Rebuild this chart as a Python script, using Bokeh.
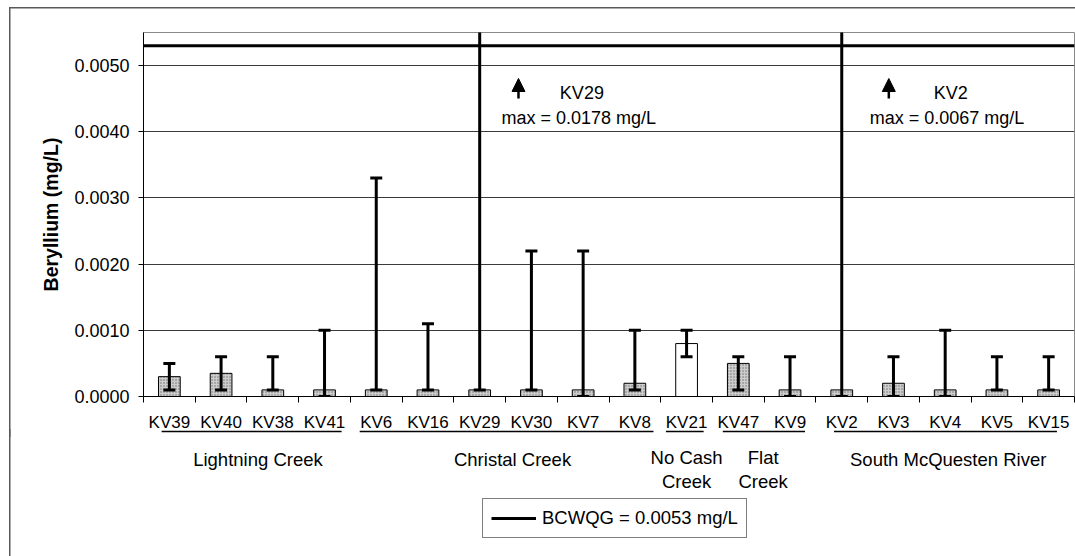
from bokeh.plotting import figure
from bokeh.layouts import column
from bokeh.models import (Range1d, FixedTicker, PrintfTickFormatter, Label, Arrow, NormalHead,
                          Legend, LegendItem)
from bokeh.embed import file_html
from bokeh.resources import INLINE

# ---------------- data ----------------
sites = ["KV39", "KV40", "KV38", "KV41", "KV6", "KV16", "KV29", "KV30", "KV7", "KV8",
         "KV21", "KV47", "KV9", "KV2", "KV3", "KV4", "KV5", "KV15"]
mean_be = [0.0003, 0.00035, 0.0001, 0.0001, 0.0001, 0.0001, 0.0001, 0.0001, 0.0001, 0.0002,
           0.0008, 0.0005, 0.0001, 0.0001, 0.0002, 0.0001, 0.0001, 0.0001]
min_be = [0.0001, 0.0001, 0.0001, 0.0, 0.0001, 0.0001, 0.0001, 0.0001, 0.0, 0.0001,
          0.0006, 0.0001, 0.0, 0.0, 0.0, 0.0, 0.0001, 0.0001]
max_be = [0.0005, 0.0006, 0.0006, 0.0010, 0.0033, 0.0011, 0.0178, 0.0022, 0.0022, 0.0010,
          0.0010, 0.0006, 0.0006, 0.0067, 0.0006, 0.0010, 0.0006, 0.0006]
groups = ["Lightning Creek", "Christal Creek", "No Cash\nCreek", "Flat\nCreek", "South McQuesten River"]
group_sizes = [4, 6, 1, 2, 5]
BCWQG = 0.0053
y_ticks = [0.0, 0.001, 0.002, 0.003, 0.004, 0.005]
off_scale_sites = ["KV29", "KV2"]

# ---------------- styling / layout helpers ----------------
FONT = "Liberation Sans"
GRAY = "#cdcdcd"
W, H = 1075, 556
Y_MAX = 0.0055
FRAME_TOP, FRAME_BOTTOM = 32, 396
TOP_H = 437                       # height of the main figure
STRIP_TOP = 429                   # canvas row where the lower strip starts (overlaps main fig)
PX = Y_MAX / (FRAME_BOTTOM - FRAME_TOP)
BORDER = "#5a5a5a"


def ypx(sy):
    """data y of the main figure for a canvas pixel row (annotation placement)"""
    return (FRAME_BOTTOM - sy) * PX


def border_styles(top):
    imgs = ["linear-gradient(%s,%s)" % (BORDER, BORDER)]
    sizes = ["1.5px 100%"]
    pos = ["9px %dpx" % (7 if top else 0)]
    if top:
        imgs.append("linear-gradient(%s,%s)" % (BORDER, BORDER))
        sizes.append("100% 1.5px")
        pos.append("9px 7px")
    return {"background-image": ", ".join(imgs), "background-size": ", ".join(sizes),
            "background-position": ", ".join(pos), "background-repeat": "no-repeat"}


xs = [i + 0.5 for i in range(len(sites))]
bar_colors = ["white" if s == "KV21" else GRAY for s in sites]
bar_hatch = [" " if s == "KV21" else "dot" for s in sites]
cap = 0.116

x_range = Range1d(0, len(sites))
p = figure(width=W, height=TOP_H, x_range=x_range, y_range=Range1d(0, Y_MAX),
           output_backend="svg", toolbar_location=None,
           min_border_left=143, min_border_right=1, min_border_top=FRAME_TOP,
           min_border_bottom=TOP_H - FRAME_BOTTOM, styles=border_styles(True))
p.background_fill_color = "white"
p.border_fill_alpha = 0
p.outline_line_color = "#8a8a8a"
p.outline_line_width = 1

# bars
p.vbar(x=xs, top=mean_be, bottom=0, width=0.42, fill_color=bar_colors,
       hatch_pattern=bar_hatch, hatch_color="#6e6e6e", hatch_scale=3, hatch_weight=1,
       line_color="black", line_width=1)

# error bars (min - max)
p.segment(x0=xs, y0=min_be, x1=xs, y1=max_be, line_color="black", line_width=3)
p.segment(x0=[x - cap for x in xs], y0=max_be, x1=[x + cap for x in xs], y1=max_be,
          line_color="black", line_width=3)
p.segment(x0=[x - cap for x in xs], y0=min_be, x1=[x + cap for x in xs], y1=min_be,
          line_color="black", line_width=3)

# guideline
p.line(x=[0, len(sites)], y=[BCWQG, BCWQG], line_color="black", line_width=3)

# axes
p.xaxis.ticker = FixedTicker(ticks=xs, minor_ticks=list(range(len(sites) + 1)))
p.xaxis.major_label_overrides = {x: s for x, s in zip(xs, sites)}
p.xaxis.major_tick_line_color = None
p.xaxis.major_tick_out = 0
p.xaxis.major_tick_in = 0
p.xaxis.minor_tick_out = 6
p.xaxis.minor_tick_in = 0
p.xaxis.minor_tick_line_color = "black"
p.xaxis.major_label_standoff = 10
p.xaxis.major_label_text_font = FONT
p.xaxis.major_label_text_font_size = "17px"
p.xaxis.major_label_text_color = "black"
p.xaxis.axis_line_color = "black"

p.yaxis.ticker = FixedTicker(ticks=y_ticks)
p.yaxis.formatter = PrintfTickFormatter(format="%.4f")
p.yaxis.major_tick_out = 5
p.yaxis.major_tick_in = 0
p.yaxis.minor_tick_line_color = None
p.yaxis.major_label_standoff = 9
p.yaxis.major_label_text_font = FONT
p.yaxis.major_label_text_font_size = "18px"
p.yaxis.major_label_text_color = "black"
p.yaxis.axis_line_color = "black"
p.yaxis.axis_label = "Beryllium (mg/L)"
p.yaxis.axis_label_text_font = FONT
p.yaxis.axis_label_text_font_size = "19.5px"
p.yaxis.axis_label_text_font_style = "bold"
p.yaxis.axis_label_text_color = "black"
p.yaxis.axis_label_standoff = 9

p.xgrid.visible = False
p.ygrid.ticker = FixedTicker(ticks=y_ticks)
p.ygrid.grid_line_color = "#3a3a3a"
p.ygrid.grid_line_width = 1

# off-scale annotations
arrow_dx = [0.75, 0.91]
site_dx = [1.55, 1.78]
max_dx = [0.42, 0.54]
for k, s in enumerate(off_scale_sites):
    i = sites.index(s)
    cx = xs[i]
    p.add_layout(Arrow(end=NormalHead(size=13, fill_color="black", line_color="black"),
                       x_start=cx + arrow_dx[k], y_start=ypx(98),
                       x_end=cx + arrow_dx[k], y_end=ypx(78),
                       line_color="black", line_width=2.5))
    p.add_layout(Label(x=cx + site_dx[k], y=ypx(92), text=s, text_font=FONT,
                       text_font_size="18px", text_baseline="middle", text_align="left",
                       text_color="black"))
    p.add_layout(Label(x=cx + max_dx[k], y=ypx(117), text=f"max = {max_be[i]:.4f} mg/L",
                       text_font=FONT, text_font_size="18px", text_baseline="middle",
                       text_align="left", text_color="black"))

# ---------------- lower strip: group labels, underlines, legend ----------------
q = figure(width=W, height=H - STRIP_TOP, x_range=x_range, y_range=Range1d(H, STRIP_TOP),
           output_backend="svg", toolbar_location=None,
           x_axis_location=None, y_axis_location=None,
           min_border_left=143, min_border_right=1, min_border_top=0, min_border_bottom=0,
           styles=border_styles(False))
q.margin = (STRIP_TOP - TOP_H, 0, 0, 0)
q.outline_line_color = None
q.background_fill_alpha = 0
q.border_fill_alpha = 0
q.xgrid.visible = False
q.ygrid.visible = False

label_dx_px = [11, 7, 0, -1, 3]
label_cy = [459, 459, 469, 469, 459]
line_pad_l = [0.35, 0.18, 0.10, 0.20, 0.35]
line_pad_r = [0.17, 0.14, 0.17, 0.21, 0.34]
UNDERLINE_Y = 431
x0s, x1s = [], []
start = 0
for g, n, dxp, cy, pl, pr in zip(groups, group_sizes, label_dx_px, label_cy, line_pad_l, line_pad_r):
    q.add_layout(Label(x=start + n / 2, y=cy, x_offset=dxp, text=g, text_font=FONT,
                       text_font_size="18.5px", text_align="center", text_baseline="middle",
                       text_line_height=1.12, text_color="black"))
    x0s.append(start + pl)
    x1s.append(start + n - pr)
    start += n
q.segment(x0=x0s, y0=[UNDERLINE_Y] * len(x0s), x1=x1s, y1=[UNDERLINE_Y] * len(x0s),
          line_color="black", line_width=1.5)

# legend sample drawn from an off-strip copy of the guideline style
legend_line = q.line(x=[0, 1], y=[H + 100, H + 100], line_color="black", line_width=3)
legend = Legend(items=[LegendItem(label=f"BCWQG = {BCWQG} mg/L", renderers=[legend_line])],
                location=(339, 18), orientation="vertical",
                glyph_width=45, glyph_height=18, padding=8, spacing=0, label_standoff=6,
                label_text_font=FONT, label_text_font_size="18.5px", label_text_color="black",
                border_line_color="black", border_line_width=1,
                background_fill_color="white", background_fill_alpha=1)
q.add_layout(legend, "center")

layout = column(p, q, spacing=0)
open("out.html", "w").write(file_html(layout, INLINE))
